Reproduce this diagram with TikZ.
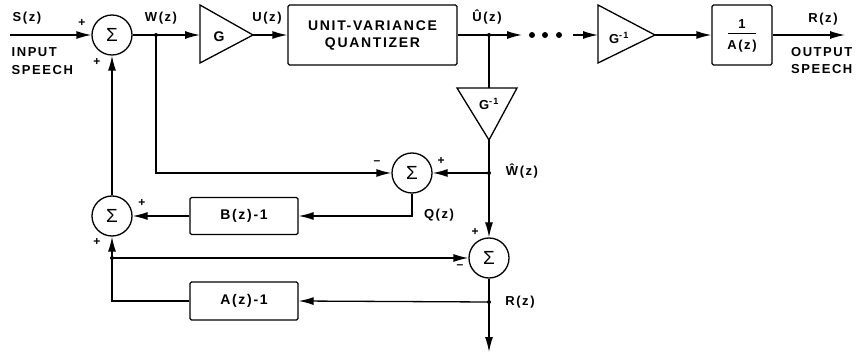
\documentclass[tikz,border=0pt]{standalone}
\usepackage{fontspec}
\setmainfont{Liberation Sans}[LetterSpace=12]
\usetikzlibrary{arrows.meta}
\begin{document}
\begin{tikzpicture}[x=1pt,y=-1pt,line width=1.3pt,
  sumnode/.style={draw,circle,minimum size=40pt,inner sep=0pt,font=\fontsize{19}{19}\selectfont},
  blk/.style={draw,rounded corners=1.5pt,inner sep=0pt,font=\fontsize{14}{17}\selectfont\bfseries,align=center},
  arr/.style={-{Latex[length=15pt,width=8pt]}},
  lbl/.style={font=\fontsize{13}{15}\selectfont\bfseries,inner sep=0pt},
  sgn/.style={font=\fontsize{12}{12}\selectfont\bfseries,inner sep=0pt},
  jdot/.style={circle,fill,inner sep=0pt,minimum size=4pt},
  bigdot/.style={circle,fill,inner sep=0pt,minimum size=6pt}]
\useasboundingbox (0,0) rectangle (856,355);

% summing junctions
\node[sumnode] (s1) at (112,35) {Σ};
\node[sumnode] (s2) at (112,216) {Σ};
\node[sumnode] (s3) at (412,173) {Σ};
\node[sumnode] (s4) at (489,258) {Σ};

% blocks
\node[blk,minimum width=169pt,minimum height=60pt] (q) at (372.5,35) {UNIT-VARIANCE\\QUANTIZER};
\node[blk,minimum width=60pt,minimum height=60pt] (ia) at (742,35) {};
\node[lbl] (ione) at (742,24) {1};
\node[lbl] (iaz) at (742,46) {A(z)};
\draw[line width=1pt] (728,34) -- (756,34);
\node[blk,minimum width=108pt,minimum height=37pt] (b) at (244,216) {B(z)-1};
\node[blk,minimum width=108pt,minimum height=38pt] (a) at (244,301) {A(z)-1};

% triangles
\draw (200,5) -- (253,35) -- (200,63) -- cycle;
\coordinate (gin) at (200,35); \coordinate (gout) at (253,35);
\node[lbl,font=\fontsize{14}{14}\selectfont\bfseries] (gt) at (219,37) {G};
\draw (598,5) -- (655,35) -- (598,63) -- cycle;
\coordinate (g2in) at (598,35); \coordinate (g2out) at (655,35);
\node[lbl] (g2t) at (619,38) {G\textsuperscript{-1}};
\draw (457,88) -- (517,88) -- (489,140) -- cycle;
\coordinate (g3in) at (489,88); \coordinate (g3out) at (489,140);
\node[lbl] (g3t) at (489,104) {G\textsuperscript{-1}};

% junctions
\coordinate (in) at (10,35);
\node[jdot] (jw) at (156,35) {};
\node[jdot] (ju) at (489,35) {};
\node[jdot] (jwh) at (489,173) {};
\node[jdot] (jfb) at (112,258) {};
\node[jdot] (jr) at (489,302) {};
\coordinate (uend) at (522,35);
\coordinate (dstart) at (573,35);
\coordinate (out) at (845,35);
\coordinate (rend) at (489,352);

% connectors
\draw[arr] (in) -- (s1.west);
\draw[arr] (s1.east) -- (jw.center) -- (gin);
\draw[arr] (jw.center) |- (s3.west);
\draw[arr] (gout) -- (q.west);
\draw[arr] (q.east) -- (uend);
\node[bigdot] at (532,35) {};
\node[bigdot] at (545,35) {};
\node[bigdot] at (559,35) {};
\draw[arr] (dstart) -- (g2in);
\draw (ju.center) -- (g3in);
\draw[arr] (g3out) -- (jwh.center) -- (s4.north);
\draw[arr] (jwh.center) -- (s3.east);
\draw[arr] (s3.south) |- (b.east);
\draw[arr] (b.west) -- (s2.east);
\draw[arr] (s2.north) -- (s1.south);
\draw[arr] (a.west) -| (jfb.center) -- (s2.south);
\draw[arr] (jfb.center) -- (s4.west);
\draw[arr] (s4.south) -- (jr.center) -- (rend);
\draw[arr] (jr.center) -- (a.east);
\draw[arr] (g2out) -- (ia.west);
\draw[arr] (ia.east) -- (out);

% labels
\node[lbl,anchor=west] (ls) at (12,18) {S(z)};
\node[lbl,anchor=west] (lin) at (11,52) {INPUT};
\node[lbl,anchor=west] (lsp) at (11,70) {SPEECH};
\node[lbl] (lw) at (161,18) {W(z)};
\node[lbl] (lu) at (267,18) {U(z)};
\node[lbl] (luh) at (487,17) {Û(z)};
\node[lbl] (lr) at (823,19) {R(z)};
\node[lbl,anchor=east] (lout) at (853,52) {OUTPUT};
\node[lbl,anchor=east] (lsp2) at (853,69) {SPEECH};
\node[lbl] (lwh) at (522,171) {Ŵ(z)};
\node[lbl] (lq) at (439,215) {Q(z)};
\node[lbl] (lr2) at (520,302) {R(z)};

% signs
\node[sgn] at (82,23) {+};
\node[sgn] at (97,62) {+};
\node[sgn] at (142,203) {+};
\node[sgn] at (97,242) {+};
\node[sgn] at (377,163) {–};
\node[sgn] at (441,161) {+};
\node[sgn] at (475,232) {+};
\node[sgn] at (460,267) {–};
\end{tikzpicture}
\end{document}
